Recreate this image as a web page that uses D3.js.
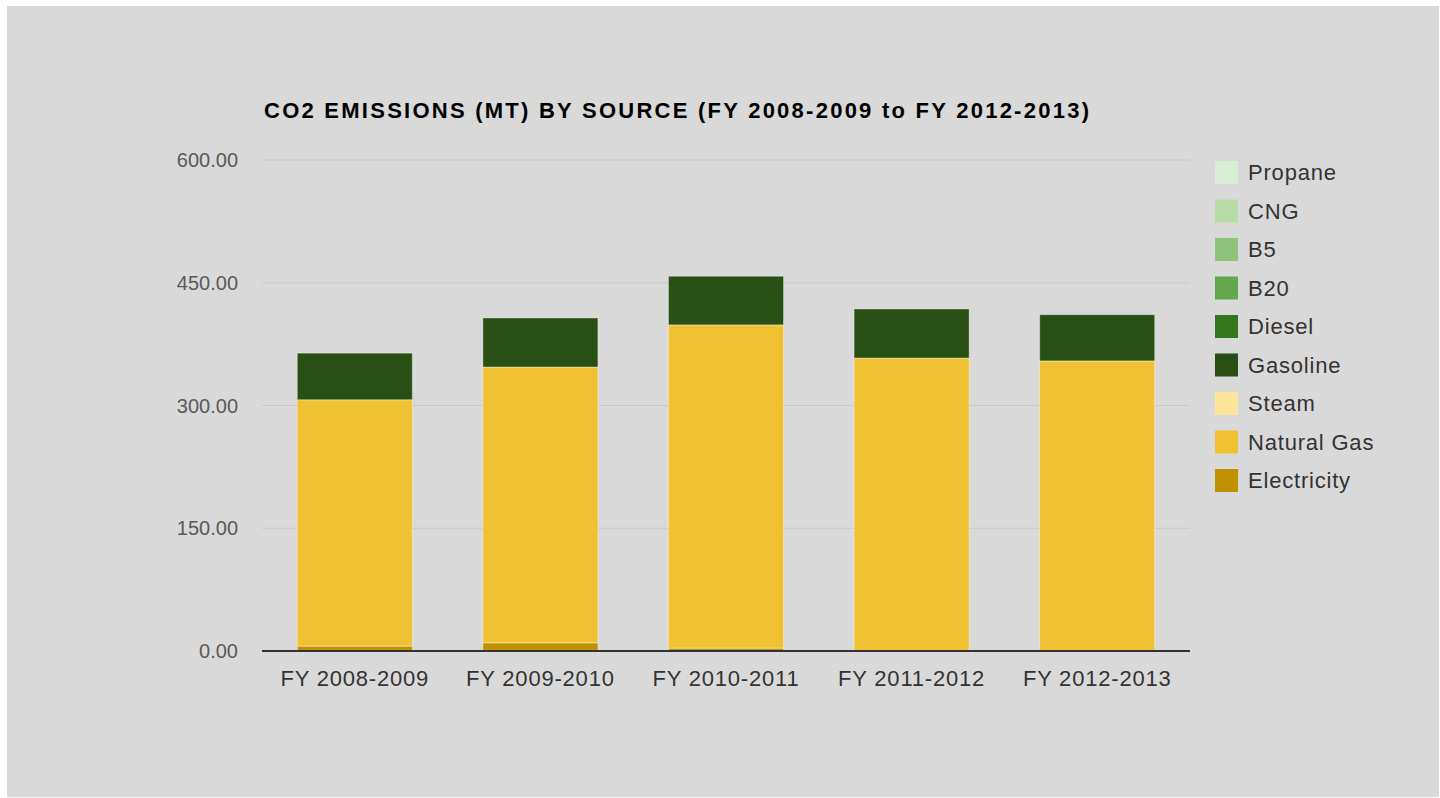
<!doctype html>
<html>
  <head>
    <meta charset="utf-8">
    <style type="text/css">
		body{
			margin: 0px;
			background: #ffffff;
		}
		#chart{
			display: block;
		}
    </style>
    <script src="https://d3js.org/d3.v7.min.js"></script>
  </head>
  <body>
    <svg id="chart" width="1440" height="798"></svg>
    <script type="text/javascript">
		// data
		var years = ["FY 2008-2009", "FY 2009-2010", "FY 2010-2011", "FY 2011-2012", "FY 2012-2013"];
		var sources = ["Electricity", "Natural Gas", "Steam", "Gasoline", "Diesel", "B20", "B5", "CNG", "Propane"];
		var colors = ["#c09000", "#f0c132", "#fde59c", "#284f14", "#34761e", "#63a64d", "#8fc27a", "#b7dca8", "#d9efd5"];

		var electricity = [6, 10, 3.5, 0, 0];
		var naturalGas = [301, 337, 395, 358, 354.5];
		var steam = [0, 0, 0, 0, 0];
		var gasoline = [57, 60, 59.5, 60, 56.5];
		var diesel = [0, 0, 0, 0, 0];
		var b20 = [0, 0, 0, 0, 0];
		var b5 = [0, 0, 0, 0, 0];
		var cng = [0, 0, 0, 0, 0];
		var propane = [0, 0, 0, 0, 0];
		var yTicks = [0, 150, 300, 450, 600];

		var seriesValues = [electricity, naturalGas, steam, gasoline, diesel, b20, b5, cng, propane];

		var rows = years.map(function(y, i){
			var r = {year: y};
			sources.forEach(function(s, j){ r[s] = seriesValues[j][i]; });
			return r;
		});

		var svg = d3.select("#chart");
		svg.append("rect")
			.attr("x", 7).attr("y", 6)
			.attr("width", 1432).attr("height", 791)
			.attr("fill", "#d9d9d9");

		var plotLeft = 262, plotRight = 1190, plotTop = 160, plotBottom = 651;
		var labelFont = "Liberation Sans, Arial, sans-serif";

		var scaleX = d3.scaleBand()
			.domain(years)
			.range([plotLeft, plotRight])
			.paddingInner(0.38)
			.paddingOuter(0.19);
		var scaleY = d3.scaleLinear()
			.domain([0, 600])
			.range([plotBottom, plotTop]);

		// gridlines
		svg.append("g").selectAll("line")
			.data(yTicks.filter(function(d){ return d > 0; }))
			.join("line")
			.attr("x1", plotLeft).attr("x2", plotRight)
			.attr("y1", function(d){ return scaleY(d); })
			.attr("y2", function(d){ return scaleY(d); })
			.attr("stroke", "#c8c8c8")
			.attr("stroke-width", 1);

		// y labels
		svg.append("g").selectAll("text")
			.data(yTicks)
			.join("text")
			.attr("x", 238)
			.attr("y", function(d){ return scaleY(d) + 7; })
			.attr("text-anchor", "end")
			.attr("font-family", labelFont)
			.attr("font-size", 20)
			.attr("fill", "#5a5a5a")
			.text(function(d){ return d3.format(".2f")(d); });

		// stacked bars
		var stack = d3.stack().keys(sources)(rows);
		svg.append("g").selectAll("g")
			.data(stack)
			.join("g")
			.attr("fill", function(d, i){ return colors[i]; })
			.selectAll("rect")
			.data(function(d){ return d.filter(function(p){ return p[1] - p[0] > 0; }); })
			.join("rect")
			.attr("x", function(d){ return scaleX(d.data.year); })
			.attr("width", scaleX.bandwidth())
			.attr("y", function(d){ return scaleY(d[1]); })
			.attr("height", function(d){ return scaleY(d[0]) - scaleY(d[1]); })
			.attr("stroke", "rgba(255,255,255,0.4)")
			.attr("stroke-width", 1);

		// baseline
		svg.append("line")
			.attr("x1", plotLeft).attr("x2", plotRight)
			.attr("y1", plotBottom).attr("y2", plotBottom)
			.attr("stroke", "#333333")
			.attr("stroke-width", 2);

		// x labels
		var axisX = d3.axisBottom(scaleX).tickSize(0).tickPadding(19);
		var gx = svg.append("g")
			.attr("transform", "translate(0," + plotBottom + ")")
			.call(axisX);
		gx.select(".domain").remove();
		gx.selectAll("text")
			.attr("font-family", labelFont)
			.attr("font-size", 22)
			.attr("letter-spacing", 0.8)
			.attr("fill", "#333333");

		// title
		svg.append("text")
			.attr("x", 264)
			.attr("y", 118)
			.attr("font-family", labelFont)
			.attr("font-size", 22)
			.attr("font-weight", "bold")
			.attr("letter-spacing", 2.25)
			.attr("fill", "#000000")
			.text("CO2 EMISSIONS (MT) BY SOURCE (FY 2008-2009 to FY 2012-2013)");

		// legend, reversed order
		var legendKeys = sources.slice().reverse();
		var legend = svg.append("g").selectAll("g")
			.data(legendKeys)
			.join("g")
			.attr("transform", function(d, i){ return "translate(1215," + (161 + i * 38.5) + ")"; });
		legend.append("rect")
			.attr("width", 23).attr("height", 23)
			.attr("fill", function(d){ return colors[sources.indexOf(d)]; });
		legend.append("text")
			.attr("x", 33)
			.attr("y", 19)
			.attr("font-family", labelFont)
			.attr("font-size", 22)
			.attr("letter-spacing", 0.8)
			.attr("fill", "#333333")
			.text(function(d){ return d; });
    </script>
  </body>
</html>
